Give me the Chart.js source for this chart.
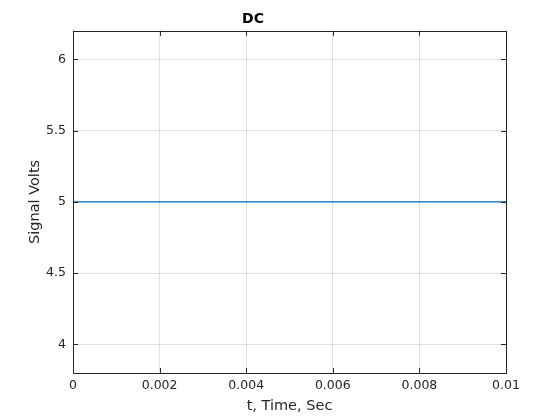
<!DOCTYPE html>
<html>
<head>
<meta charset="utf-8">
<script src="https://cdn.jsdelivr.net/npm/chart.js@4/dist/chart.umd.min.js"></script>
<style>
  html, body { margin: 0; padding: 0; background: #fff; }
  #wrap { width: 560px; height: 420px; }
</style>
</head>
<body>
<div id="wrap"><canvas id="plot" width="560" height="420"></canvas></div>
<script>
/* chart data */
const timeValues = [0, 0.01];
const signalValues = [5, 5];
const xTickValues = [0, 0.002, 0.004, 0.006, 0.008, 0.01];
const xTickLabels = ['0', '0.002', '0.004', '0.006', '0.008', '0.01'];
const yTickValues = [4, 4.5, 5, 5.5, 6];
const yTickLabels = ['4', '4.5', '5', '5.5', '6'];

const lineColor = '#0072BD';
const axisColor = '#262626';
const fontFamily = '"DejaVu Sans", sans-serif';

// box around the axes plus inward tick marks, MATLAB style
const boxPlugin = {
    id: 'box',
    afterDraw(chart) {
        const {ctx, chartArea: a, scales} = chart;
        const len = 5;
        ctx.save();
        ctx.strokeStyle = axisColor;
        ctx.lineWidth = 1;
        ctx.beginPath();
        scales.x.ticks.forEach(t => {
            const px = Math.round(scales.x.getPixelForValue(t.value)) + 0.5;
            ctx.moveTo(px, a.bottom);
            ctx.lineTo(px, a.bottom - len);
            ctx.moveTo(px, a.top);
            ctx.lineTo(px, a.top + len);
        });
        scales.y.ticks.forEach(t => {
            const py = Math.round(scales.y.getPixelForValue(t.value)) + 0.5;
            ctx.moveTo(a.left, py);
            ctx.lineTo(a.left + len, py);
            ctx.moveTo(a.right, py);
            ctx.lineTo(a.right - len, py);
        });
        ctx.stroke();
        ctx.strokeRect(Math.round(a.left) + 0.5, Math.round(a.top) + 0.5,
            Math.round(a.right - a.left), Math.round(a.bottom - a.top));
        ctx.restore();
    }
};

new Chart(document.getElementById('plot').getContext('2d'), {
    type: 'scatter',
    data: {
        datasets: [{
            data: timeValues.map((t, i) => ({x: t, y: signalValues[i]})),
            showLine: true,
            borderColor: lineColor,
            borderWidth: 1.2,
            pointRadius: 0,
            fill: false
        }]
    },
    options: {
        responsive: false,
        animation: false,
        layout: {padding: {left: 0, right: 54, top: 0, bottom: 0}},
        plugins: {
            legend: {display: false},
            tooltip: {enabled: false},
            title: {
                display: true,
                text: 'DC',
                color: '#000',
                font: {family: fontFamily, size: 14, weight: 'bold'},
                padding: {top: 11, bottom: 3}
            }
        },
        scales: {
            x: {
                type: 'linear',
                min: 0,
                max: 0.01,
                afterBuildTicks: s => { s.ticks = xTickValues.map(v => ({value: v})); },
                afterFit: s => { s.height = 47; },
                grid: {color: 'rgba(38,38,38,0.15)', drawTicks: false},
                border: {display: false},
                ticks: {
                    color: axisColor,
                    padding: 5,
                    maxRotation: 0,
                    font: {family: fontFamily, size: 12.5},
                    callback: (v, i) => xTickLabels[i]
                },
                title: {
                    display: true,
                    text: 't, Time, Sec',
                    color: axisColor,
                    font: {family: fontFamily, size: 14.5},
                    padding: {top: 0, bottom: 5}
                }
            },
            y: {
                type: 'linear',
                min: 3.8,
                max: 6.2,
                afterBuildTicks: s => { s.ticks = yTickValues.map(v => ({value: v})); },
                afterFit: s => { s.width = 73; },
                grid: {color: 'rgba(38,38,38,0.15)', drawTicks: false},
                border: {display: false},
                ticks: {
                    color: axisColor,
                    padding: 7,
                    font: {family: fontFamily, size: 12.5},
                    callback: (v, i) => yTickLabels[i]
                },
                title: {
                    display: true,
                    text: 'Signal Volts',
                    color: axisColor,
                    font: {family: fontFamily, size: 14.5},
                    padding: {top: 27, bottom: 0}
                }
            }
        }
    },
    plugins: [boxPlugin]
});
</script>
</body>
</html>
